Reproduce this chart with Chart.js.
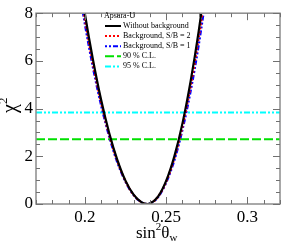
<!DOCTYPE html>
<html>
<head>
<meta charset="utf-8">
<script src="https://cdn.jsdelivr.net/npm/chart.js@4.4.0/dist/chart.umd.min.js"></script>
<style>
  html, body { margin: 0; padding: 0; background: #fff; }
  #wrap { width: 283px; height: 241px; }
</style>
</head>
<body>
<div id="wrap"><canvas id="chi"></canvas></div>
<script>
// sin^2(theta_w) values where the curves were read
const xs = [0.195, 0.200, 0.205, 0.210, 0.215, 0.220, 0.225, 0.230, 0.235, 0.2385,
            0.240, 0.245, 0.250, 0.255, 0.260, 0.265, 0.270, 0.275];
const chiNoBkg = [10.22, 8.00, 6.06, 4.38, 2.98, 1.85, 0.98, 0.39, 0.066, 0,
                  0.016, 0.31, 0.97, 1.99, 3.37, 5.13, 7.24, 9.73];
const chiSB2 = [9.93, 7.78, 5.89, 4.26, 2.90, 1.80, 0.96, 0.38, 0.064, 0,
                0.016, 0.30, 0.93, 1.91, 3.24, 4.92, 6.95, 9.33];
const chiSB1 = [9.65, 7.56, 5.72, 4.14, 2.82, 1.74, 0.93, 0.37, 0.062, 0,
                0.015, 0.28, 0.89, 1.82, 3.10, 4.71, 6.65, 8.93];
const clX = [0.17, 0.32];
const cl90 = [2.71, 2.71];
const cl95 = [3.84, 3.84];
const xTicks = [0.2, 0.25, 0.3];
const yTicks = [0, 2, 4, 6, 8];
const legendTitle = "Apsara-U";
const labels = ["Without background", "Background, S/B = 2", "Background, S/B = 1", "90 % C.L.", "95 % C.L."];

function pts(x, y) {
  return x.map((v, i) => ({ x: v, y: y[i] }));
}

const serif = "'Liberation Serif', 'DejaVu Serif', serif";

// frame + inward ticks on all four sides, legend, axis titles
const decor = {
  id: "decor",
  afterDraw(chart) {
    const c = chart.ctx;
    const a = chart.chartArea;
    const sx = chart.scales.x, sy = chart.scales.y;
    c.save();
    c.strokeStyle = "#8c8c8c";
    c.lineWidth = 1.5;
    c.strokeRect(a.left, a.top, a.right - a.left, a.bottom - a.top);
    c.lineWidth = 1;
    c.strokeStyle = "#707070";
    c.beginPath();
    for (let i = 17; i <= 32; i++) {
      let v = i / 100;
      let px = Math.round(sx.getPixelForValue(v)) + 0.5;
      let len = (i % 5 == 0) ? 7 : 4;
      c.moveTo(px, a.bottom); c.lineTo(px, a.bottom - len);
      c.moveTo(px, a.top); c.lineTo(px, a.top + len);
    }
    for (let i = 0; i <= 16; i++) {
      let v = i / 2;
      let py = Math.round(sy.getPixelForValue(v)) + 0.5;
      let len = (i % 4 == 0) ? 7 : 4;
      c.moveTo(a.left, py); c.lineTo(a.left + len, py);
      c.moveTo(a.right, py); c.lineTo(a.right - len, py);
    }
    c.stroke();

    // legend
    c.font = "8px " + serif;
    c.fillStyle = "#000";
    c.textBaseline = "middle";
    c.fillText(legendTitle, 104, 16);
    const ds = chart.data.datasets;
    for (let i = 0; i < ds.length; i++) {
      let y = 26 + i * 10.1;
      c.beginPath();
      c.strokeStyle = ds[i].borderColor;
      c.lineWidth = 2;
      c.setLineDash(ds[i].borderDash || []);
      c.moveTo(105, y); c.lineTo(121, y);
      c.stroke();
      c.setLineDash([]);
      c.fillStyle = "#000";
      c.fillText(ds[i].label, 123, y);
    }

    // x title: sin^2 theta_w
    c.textBaseline = "alphabetic";
    c.font = "17px " + serif;
    let x0 = 136, base = 238;
    c.fillText("sin", x0, base);
    x0 += c.measureText("sin").width;
    c.font = "11px " + serif;
    c.fillText("2", x0, base - 8);
    x0 += c.measureText("2").width;
    c.font = "17px " + serif;
    c.fillText("θ", x0, base);
    x0 += c.measureText("θ").width;
    c.font = "11px " + serif;
    c.fillText("w", x0, base + 3);

    // y title: chi^2
    c.translate(16, 113);
    c.rotate(-Math.PI / 2);
    c.font = "20px " + serif;
    c.fillText("χ", 0, 0);
    let w = c.measureText("χ").width;
    c.font = "13px " + serif;
    c.fillText("2", w, -9);
    c.restore();
  }
};

const ctx = document.querySelector("#chi");
new Chart(ctx, {
  type: "line",
  data: {
    datasets: [
      { label: labels[0], data: pts(xs, chiNoBkg), borderColor: "#000000", borderWidth: 2.2 },
      { label: labels[1], data: pts(xs, chiSB2), borderColor: "#ff0000", borderWidth: 2.2, borderDash: [2, 2] },
      { label: labels[2], data: pts(xs, chiSB1), borderColor: "#0000ff", borderWidth: 2.2, borderDash: [2, 2, 2, 2, 5, 2] },
      { label: labels[3], data: pts(clX, cl90), borderColor: "#00e000", borderWidth: 2, borderDash: [9, 3] },
      { label: labels[4], data: pts(clX, cl95), borderColor: "#00ffff", borderWidth: 2, borderDash: [6, 2, 2, 2, 2, 2] }
    ]
  },
  options: {
    responsive: true,
    maintainAspectRatio: false,
    animation: false,
    devicePixelRatio: 1,
    layout: { autoPadding: false, padding: { top: 1, right: 3, left: 0, bottom: 0 } },
    elements: {
      point: { radius: 0 },
      line: { cubicInterpolationMode: "monotone", fill: false }
    },
    plugins: {
      legend: { display: false },
      tooltip: { enabled: false }
    },
    scales: {
      x: {
        type: "linear",
        min: 0.17,
        max: 0.32,
        grid: { display: false, drawTicks: false },
        border: { display: false },
        afterBuildTicks: s => { s.ticks = xTicks.map(v => ({ value: v })); },
        afterFit: s => { s.height = 37; },
        ticks: {
          padding: 3,
          color: "#000",
          font: { family: serif, size: 17 },
          callback: v => String(v)
        }
      },
      y: {
        type: "linear",
        min: 0,
        max: 8,
        grid: { display: false, drawTicks: false },
        border: { display: false },
        afterBuildTicks: s => { s.ticks = yTicks.map(v => ({ value: v })); },
        afterFit: s => { s.width = 36; },
        ticks: {
          padding: 3,
          color: "#000",
          font: { family: serif, size: 17 }
        }
      }
    }
  },
  plugins: [decor]
});
</script>
</body>
</html>
